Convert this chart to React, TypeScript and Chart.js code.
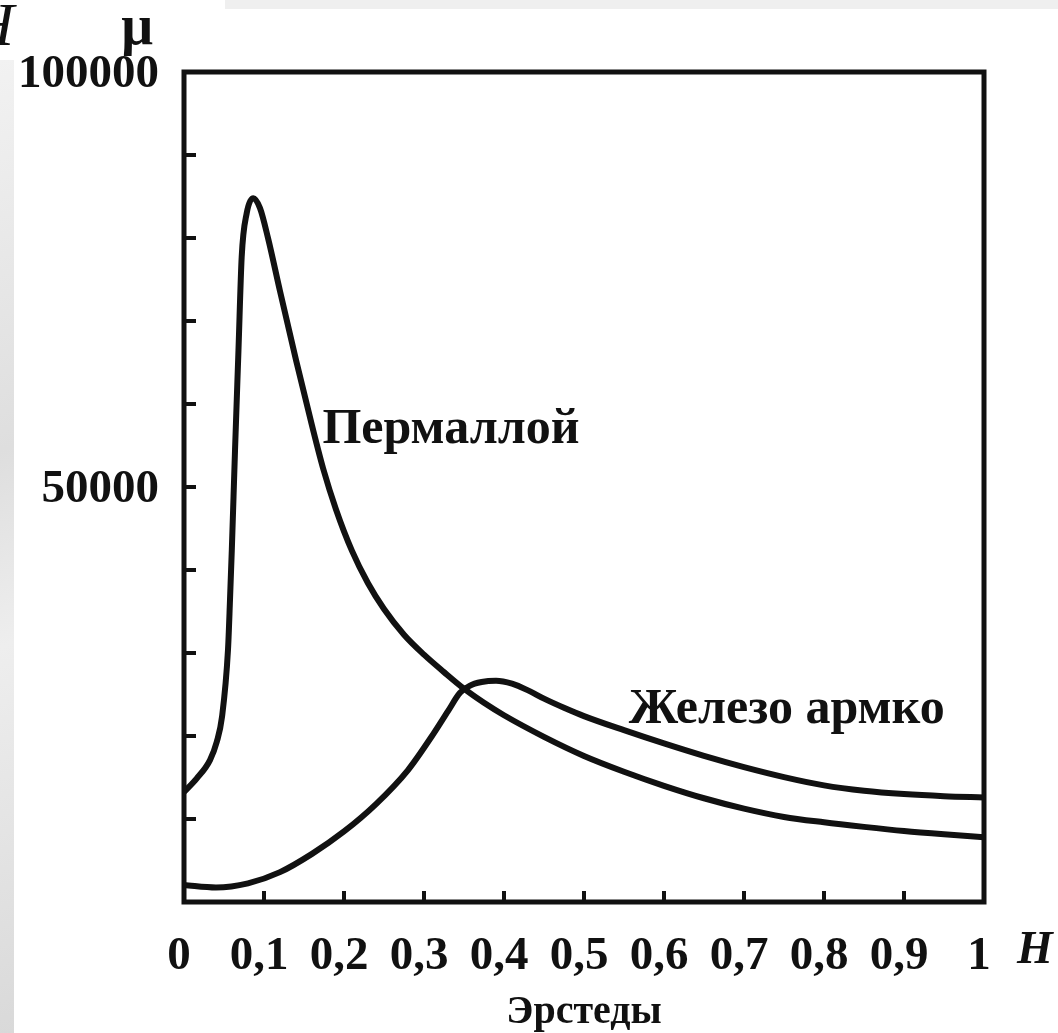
import React, { useEffect, useRef } from "react";
import { Chart, registerables } from "chart.js";

Chart.register(...registerables);

// Permalloy: field H (oersted) and permeability μ
const permalloyH = [0, 0.016, 0.0325, 0.041, 0.0475, 0.055, 0.0575, 0.05975, 0.0638, 0.0681, 0.0721, 0.0784, 0.0866, 0.095, 0.105, 0.12, 0.14, 0.16, 0.174, 0.19, 0.21, 0.23, 0.25, 0.275, 0.3, 0.325, 0.35, 0.375, 0.4, 0.45, 0.5, 0.55, 0.6, 0.65, 0.7, 0.75, 0.8, 0.85, 0.9, 0.95, 1.0];
const permalloyMu = [13250, 14900, 17100, 19300, 22300, 30400, 36400, 42400, 54500, 66500, 77700, 83000, 84800, 83600, 80000, 73600, 65300, 57400, 52200, 47300, 42300, 38400, 35300, 32200, 29800, 27700, 25700, 24000, 22500, 19900, 17600, 15700, 14000, 12500, 11250, 10250, 9600, 9050, 8550, 8150, 7800];

// Armco iron
const ironH = [0, 0.04, 0.08, 0.12, 0.16, 0.2, 0.24, 0.28, 0.31, 0.33, 0.345, 0.357, 0.372, 0.39, 0.41, 0.43, 0.45, 0.475, 0.5, 0.55, 0.6, 0.65, 0.7, 0.75, 0.8, 0.85, 0.9, 0.95, 1.0];
const ironMu = [2050, 1750, 2250, 3600, 5800, 8500, 11800, 15900, 20000, 23000, 25200, 26050, 26500, 26650, 26300, 25500, 24500, 23400, 22400, 20700, 19100, 17600, 16250, 15050, 14050, 13400, 13000, 12750, 12600];

const xTickValues = [0, 0.1, 0.2, 0.3, 0.4, 0.5, 0.6, 0.7, 0.8, 0.9, 1];
const xTickLabels = ["0", "0,1", "0,2", "0,3", "0,4", "0,5", "0,6", "0,7", "0,8", "0,9", "1"];
const yLabelledTicks = [50000, 100000];
const seriesNames = ["Пермаллой", "Железо армко"];
const xTitle = "Эрстеды";

const SERIF = "'Liberation Serif', 'DejaVu Serif', serif";
const INK = "#111111";

const decorPlugin = {
  id: "decor",
  afterDraw(chart: any) {
    const { ctx, chartArea: a, scales } = chart;
    const xs = scales.x;
    const ys = scales.y;
    ctx.save();
    ctx.strokeStyle = INK;
    ctx.lineWidth = 5;
    ctx.lineCap = "butt";
    ctx.strokeRect(a.left, a.top, a.right - a.left, a.bottom - a.top);
    // inner ticks on left axis
    ctx.lineWidth = 4;
    for (let v = 10000; v < 100000; v += 10000) {
      const y = ys.getPixelForValue(v);
      ctx.beginPath();
      ctx.moveTo(a.left, y);
      ctx.lineTo(a.left + 12, y);
      ctx.stroke();
    }
    // inner ticks on bottom axis
    for (let i = 1; i < xTickValues.length - 1; i++) {
      const x = xs.getPixelForValue(xTickValues[i]);
      ctx.beginPath();
      ctx.moveTo(x, a.bottom);
      ctx.lineTo(x, a.bottom - 11);
      ctx.stroke();
    }
    ctx.fillStyle = INK;
    // series labels
    ctx.font = `bold 50px ${SERIF}`;
    ctx.textAlign = "left";
    ctx.textBaseline = "alphabetic";
    ctx.fillText(seriesNames[0], xs.getPixelForValue(0.173), ys.getPixelForValue(55300));
    ctx.fillText(seriesNames[1], xs.getPixelForValue(0.556), ys.getPixelForValue(21570));
    // axis symbols
    ctx.font = `bold italic 46px ${SERIF}`;
    ctx.fillText("H", a.right + 33, a.bottom + 61);
    ctx.font = `bold 56px ${SERIF}`;
    ctx.textAlign = "center";
    ctx.fillText("μ", a.left - 47, a.top - 28);
    ctx.font = `italic 62px ${SERIF}`;
    ctx.textAlign = "right";
    ctx.fillText("H", a.left - 170, a.top - 27);
    ctx.restore();
  },
};

export default function App() {
  const ref = useRef<HTMLCanvasElement | null>(null);

  useEffect(() => {
    if (!ref.current) return;
    const chart = new Chart(ref.current, {
      type: "line",
      data: {
        datasets: [
          {
            label: seriesNames[0],
            data: permalloyH.map((h, i) => ({ x: h, y: permalloyMu[i] })),
            borderColor: INK,
            borderWidth: 6,
            pointRadius: 0,
            cubicInterpolationMode: "monotone",
            fill: false,
          },
          {
            label: seriesNames[1],
            data: ironH.map((h, i) => ({ x: h, y: ironMu[i] })),
            borderColor: INK,
            borderWidth: 6,
            pointRadius: 0,
            cubicInterpolationMode: "monotone",
            fill: false,
          },
        ],
      },
      options: {
        animation: false,
        responsive: true,
        maintainAspectRatio: false,
        layout: { padding: { left: 0, top: 72, right: 74, bottom: 0 } },
        plugins: { legend: { display: false }, tooltip: { enabled: false } },
        scales: {
          x: {
            type: "linear",
            min: 0,
            max: 1,
            afterBuildTicks: (s: any) => {
              s.ticks = xTickValues.map((v) => ({ value: v }));
            },
            afterFit: (s: any) => {
              s.height = 131;
            },
            grid: { display: false },
            border: { display: false },
            ticks: {
              autoSkip: false,
              maxRotation: 0,
              padding: 19,
              labelOffset: -5,
              color: INK,
              font: { family: SERIF, size: 47, weight: "bold" },
              callback: (v: any) => {
                const i = xTickValues.findIndex((t) => Math.abs(t - Number(v)) < 1e-9);
                return i >= 0 ? xTickLabels[i] : "";
              },
            },
            title: {
              display: true,
              text: xTitle,
              color: INK,
              padding: { top: 0, bottom: 0 },
              font: { family: SERIF, size: 40, weight: "bold", lineHeight: 1 },
            },
          },
          y: {
            type: "linear",
            min: 0,
            max: 100000,
            afterBuildTicks: (s: any) => {
              s.ticks = yLabelledTicks.map((v) => ({ value: v }));
            },
            afterFit: (s: any) => {
              s.width = 184;
            },
            grid: { display: false },
            border: { display: false },
            ticks: {
              padding: 17,
              labelOffset: 3,
              color: INK,
              font: { family: SERIF, size: 47, weight: "bold" },
              callback: (v: any) => String(v),
            },
          },
        },
      },
      plugins: [decorPlugin],
    });
    return () => chart.destroy();
  }, []);

  return (
    <div
      style={{
        position: "fixed",
        left: 0,
        top: 0,
        width: 1058,
        height: 1033,
        background: "#ffffff",
        overflow: "hidden",
      }}
    >
      <div style={{ position: "absolute", left: 0, top: 60, width: 14, height: 973, background: "linear-gradient(160deg, #f2f2f2 0%, #dedede 40%, #eeeeee 60%, #d9d9d9 100%)" }} />
      <div style={{ position: "absolute", left: 225, top: 0, width: 833, height: 9, background: "#efefef" }} />
      <canvas ref={ref} style={{ position: "absolute", left: 0, top: 0, width: 1058, height: 1033 }} />
    </div>
  );
}
